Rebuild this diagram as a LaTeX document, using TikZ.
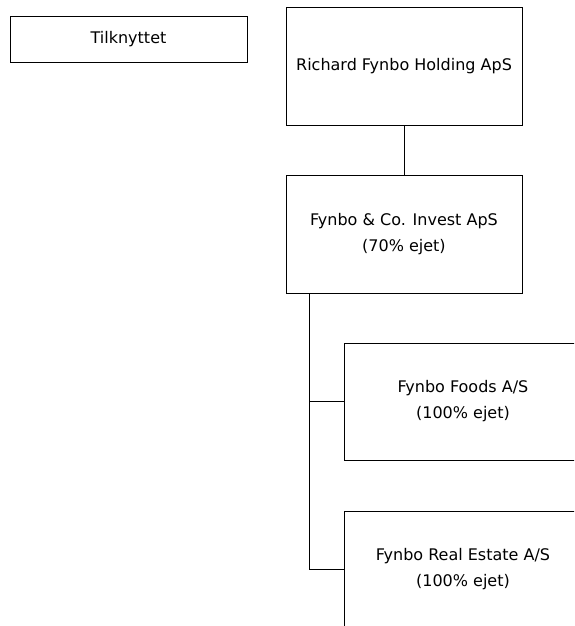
\documentclass[tikz,border=0pt]{standalone}
\usepackage{fontspec}
\setmainfont{DejaVu Sans}
\begin{document}
\begin{tikzpicture}[x=1pt,y=-1pt,
  box/.style={draw, line width=0.9pt, inner sep=0pt},
  txt/.style={align=center, font=\fontsize{16}{26}\selectfont, inner sep=0pt},
  conn/.style={line width=0.9pt}]
\useasboundingbox (0,0) rectangle (574,626);
\clip (0,0) rectangle (574,626);
\node[box, txt, minimum width=237pt, minimum height=46pt] (tilk) at (128.5,39) {Tilknyttet};
\node[box, txt, minimum width=236pt, minimum height=118pt] (rich) at (404,66) {Richard Fynbo Holding ApS};
\node[box, txt, minimum width=236pt, minimum height=118pt] (inv) at (404,234) {Fynbo \& Co. Invest ApS\\(70\% ejet)};
\node[box, txt, minimum width=238pt, minimum height=117pt] (foods) at (463,401.5) {Fynbo Foods A/S\\(100\% ejet)};
\node[box, txt, minimum width=238pt, minimum height=117pt] (real) at (463,569.5) {Fynbo Real Estate A/S\\(100\% ejet)};
\draw[conn] (rich.south) -- (inv.north);
\coordinate (t0) at ([xshift=24pt]inv.south west);
\draw[conn] (t0) |- (foods.west);
\draw[conn] (t0) |- (real.west);
\end{tikzpicture}
\end{document}
